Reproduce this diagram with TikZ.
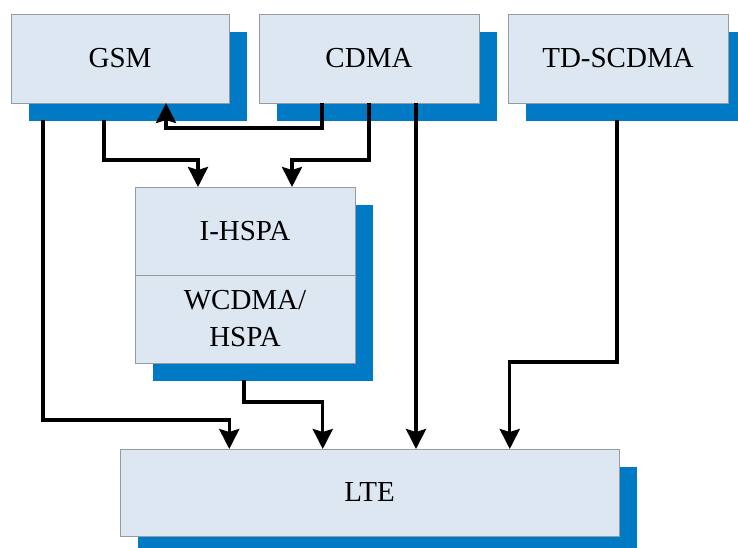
\documentclass[tikz,border=0pt]{standalone}
\usepackage{fontspec}
\setmainfont{Liberation Serif}
\usetikzlibrary{arrows.meta, shadows, calc, positioning}
\definecolor{boxfill}{RGB}{221,231,242}
\definecolor{boxline}{RGB}{150,155,160}
\definecolor{shadowblue}{RGB}{0,122,196}

\begin{document}
\begin{tikzpicture}[x=1pt, y=-1pt,
    sysbox/.style={rectangle, draw=boxline, line width=0.8pt, fill=boxfill,
        minimum width=220pt, minimum height=89pt, inner sep=0pt, outer sep=0pt,
        font=\fontsize{29}{37}\selectfont, align=center,
        drop shadow={shadow xshift=18pt, shadow yshift=-18pt, fill=shadowblue, opacity=1, draw=none}},
    link/.style={line width=3.4pt, -{Stealth[length=20pt, width=20pt, inset=3pt]}}]
    \useasboundingbox (0,0) rectangle (738,548);

    % top row
    \node[sysbox, minimum width=218pt] (gsm) at (120,58.5) {GSM};
    \node[sysbox] (cdma) at (369,58.5) {CDMA};
    \node[sysbox] (tdscdma) at (618,58.5) {TD-SCDMA};

    % middle stack
    \node[sysbox, minimum height=88pt] (ihspa) at (245,231) {I-HSPA};
    \node[sysbox, minimum height=88pt, below=0pt of ihspa] (wcdma) {WCDMA/\\HSPA};

    % bottom
    \node[sysbox, minimum width=499pt, minimum height=87pt] (lte) at (369.5,492.5) {LTE};

    \draw[link] ([shift={(32,17)}]gsm.south west) -- ++(0,300) -| ([xshift=-140.25pt]lte.north);
    \draw[link] ([shift={(93,17)}]gsm.south west) -- ++(0,40) -| ([xshift=-47pt]ihspa.north);
    \draw[link] ([xshift=-47pt]cdma.south) -- ++(0,25) -| ([xshift=46pt]gsm.south);
    \draw[link] (cdma.south) -- ++(0,57) -| ([xshift=47pt]ihspa.north);
    \draw[link] ([xshift=47pt]cdma.south) -- ([xshift=47pt]cdma.south |- lte.north);
    \draw[link] ([shift={(-1,17)}]tdscdma.south) -- ++(0,242) -| ([xshift=140.25pt]lte.north);
    \draw[link] ([shift={(-1,17)}]wcdma.south) -- ++(0,22) -| ([xshift=-46.75pt]lte.north);
\end{tikzpicture}
\end{document}
